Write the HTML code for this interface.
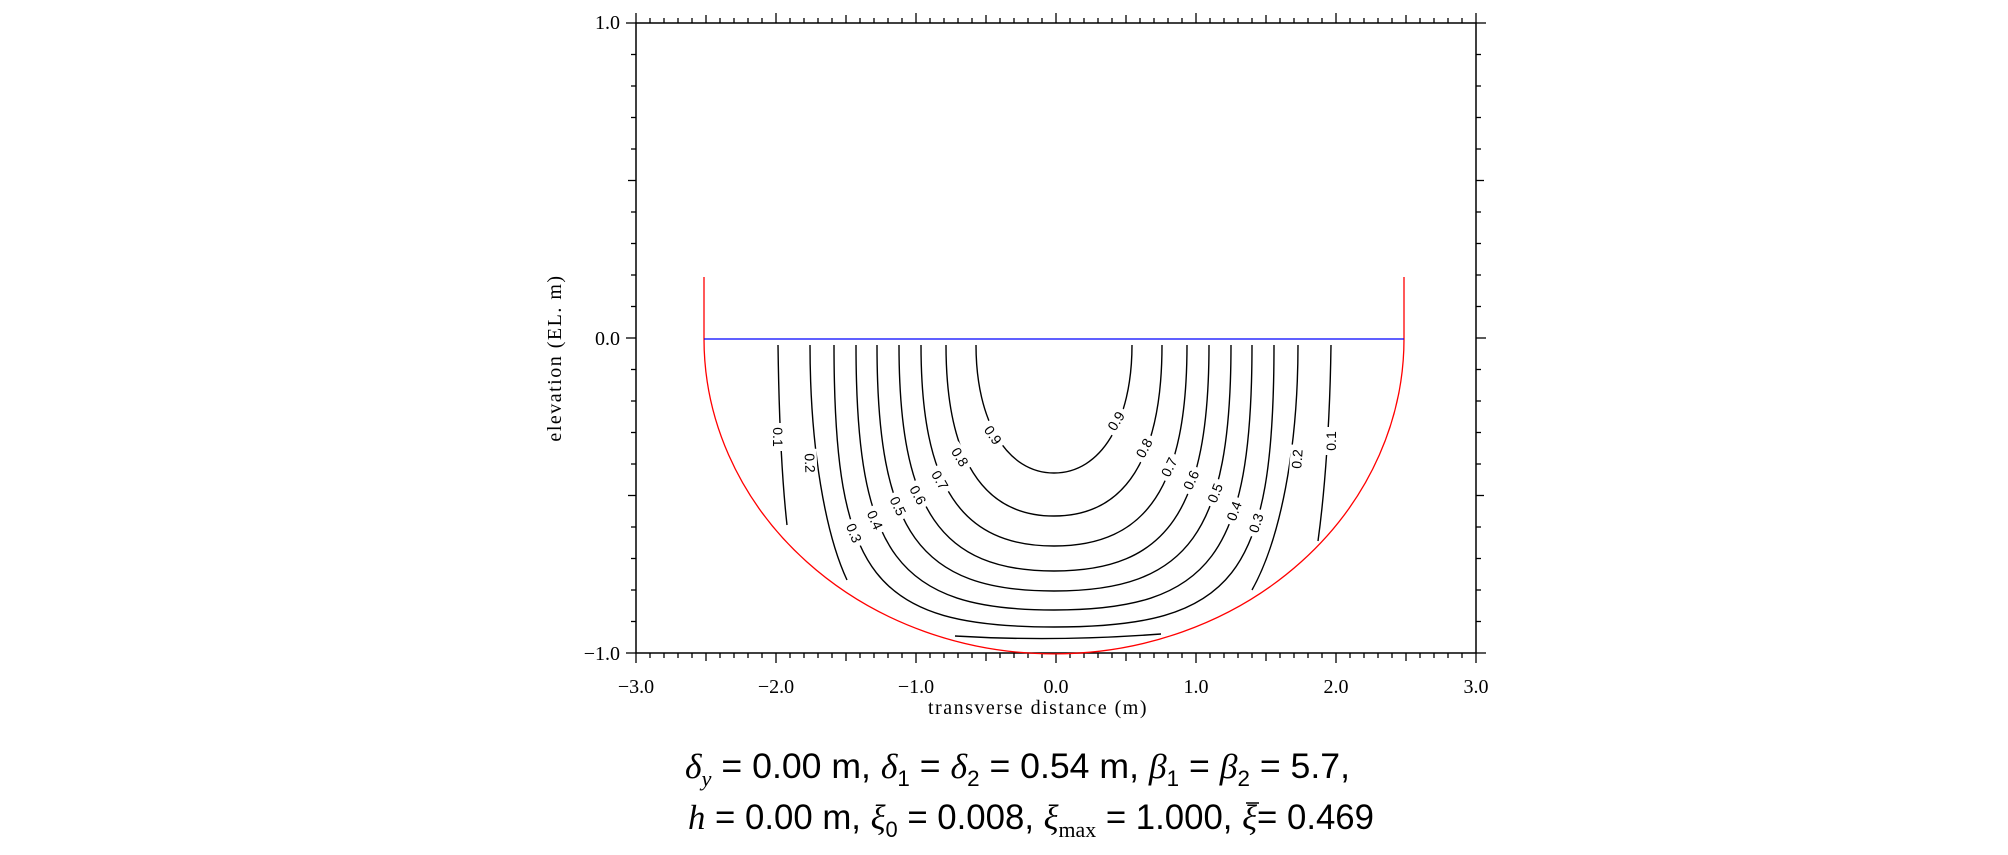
<!DOCTYPE html>
<html><head><meta charset="utf-8"><style>
html,body{margin:0;padding:0;background:#fff;width:2008px;height:855px;overflow:hidden}
</style></head><body>
<svg id="s" width="2008" height="855" viewBox="0 0 2008 855" xmlns="http://www.w3.org/2000/svg">
<rect width="2008" height="855" fill="#fff"/>
<g id="ticks" stroke="#000" stroke-width="1.3"></g>
<rect x="636" y="23" width="840" height="630" fill="none" stroke="#000" stroke-width="1.5"/>
<g font-family="Liberation Serif, serif" font-size="20" fill="#000">
<text x="620" y="29" text-anchor="end">1.0</text>
<text x="620" y="345" text-anchor="end">0.0</text>
<text x="620" y="660" text-anchor="end">−1.0</text>
<g text-anchor="middle">
<text x="636" y="693">−3.0</text><text x="776" y="693">−2.0</text><text x="916" y="693">−1.0</text>
<text x="1056" y="693">0.0</text><text x="1196" y="693">1.0</text><text x="1336" y="693">2.0</text><text x="1476" y="693">3.0</text>
</g>
<text x="1038" y="714" text-anchor="middle" font-size="20" letter-spacing="1.5">transverse  distance  (m)</text>
<text transform="translate(561,358) rotate(-90)" text-anchor="middle" font-size="20" letter-spacing="1.5">elevation  (EL.  m)</text>
</g>
<path d="M704,277 L704,339 A350,315 0 0 0 1404,339 L1404,277" fill="none" stroke="#ff0000" stroke-width="1.3"/>
<line x1="704" y1="339" x2="1404" y2="339" stroke="#0000ff" stroke-width="1.3"/>
<g fill="none" stroke="#000" stroke-width="1.4" id="cont">
<path d="M778,345 C779,420 782,480 787,525"/>
<path d="M1331,345 C1330,420 1325,490 1318,541"/>
<path d="M810,345 C810,450 826,535 847,580"/>
<path d="M1298,345 C1298,450 1280,540 1252,590"/>
<path d="M955,636 Q1055,642 1161,634"/>
</g>
<g font-family="Liberation Sans, sans-serif" font-size="14" fill="#000" id="lab"></g>
<g font-family="Liberation Sans, DejaVu Sans, sans-serif" font-size="35" fill="#000">
<text x="685" y="778" textLength="665" lengthAdjust="spacingAndGlyphs"><tspan font-style="italic" font-family="Liberation Serif, serif">δ</tspan><tspan font-size="22" dy="8" font-style="italic" font-family="Liberation Serif, serif">y</tspan><tspan dy="-8"> = 0.00 m, </tspan><tspan font-style="italic" font-family="Liberation Serif, serif">δ</tspan><tspan font-size="22" dy="8">1</tspan><tspan dy="-8"> = </tspan><tspan font-style="italic" font-family="Liberation Serif, serif">δ</tspan><tspan font-size="22" dy="8">2</tspan><tspan dy="-8"> = 0.54 m, </tspan><tspan font-style="italic" font-family="Liberation Serif, serif">β</tspan><tspan font-size="22" dy="8">1</tspan><tspan dy="-8"> = </tspan><tspan font-style="italic" font-family="Liberation Serif, serif">β</tspan><tspan font-size="22" dy="8">2</tspan><tspan dy="-8"> = 5.7,</tspan></text>
<text x="688" y="829" textLength="686" lengthAdjust="spacingAndGlyphs"><tspan font-style="italic" font-family="Liberation Serif, serif">h</tspan><tspan> = 0.00 m, </tspan><tspan font-style="italic" font-family="Liberation Serif, serif">ξ</tspan><tspan font-size="22" dy="8">0</tspan><tspan dy="-8"> = 0.008, </tspan><tspan font-style="italic" font-family="Liberation Serif, serif">ξ</tspan><tspan font-size="22" dy="8" font-family="Liberation Serif, serif">max</tspan><tspan dy="-8"> = 1.000, </tspan><tspan font-style="italic" font-family="Liberation Serif, serif">ξ</tspan><tspan>= 0.469</tspan></text>
</g>
<line x1="1246" y1="803" x2="1259" y2="803" stroke="#000" stroke-width="1.5"/>
</svg>
<script>
var NS="http://www.w3.org/2000/svg";
function el(p,t,a){var e=document.createElementNS(NS,t);for(var k in a)e.setAttribute(k,a[k]);p.appendChild(e);return e;}
var T=document.getElementById('ticks');
for(var i=0;i<=60;i++){var x=636+i*14;var L=(i%10==0)?10:(i%5==0?8:5);
 el(T,'line',{x1:x,y1:653,x2:x,y2:653+L});el(T,'line',{x1:x,y1:23,x2:x,y2:23-L});}
for(var j=0;j<=20;j++){var y=23+j*31.5;var L=(j%10==0)?10:(j%5==0?8:5);
 el(T,'line',{x1:636,y1:y,x2:636-L,y2:y});el(T,'line',{x1:1476,y1:y,x2:1476+L,y2:y});}
var C=document.getElementById('cont');
var cx=1054,ty=345;
var cs=[[0.9,78,473,0.6],[0.8,108,516,0.66],[0.7,133,546,0.7],[0.6,155,571,0.73],[0.5,177,591,0.76],[0.4,198,610,0.79],[0.3,220,627,0.82]];
cs.forEach(function(c){var a=c[1],Y=c[2],k=c[3],D=Y-ty;
 var d="M"+(cx-a)+","+ty+" C"+(cx-a)+","+(ty+k*D)+" "+(cx-k*a)+","+Y+" "+cx+","+Y+" C"+(cx+k*a)+","+Y+" "+(cx+a)+","+(ty+k*D)+" "+(cx+a)+","+ty;
 el(C,'path',{d:d});});
var G=document.getElementById('lab');
var labs=[["0.1",778,437,90],["0.2",810,463,88],["0.3",854,533,68],["0.4",875,520,66],["0.5",898,506,64],["0.6",918,495,62],["0.7",940,480,60],["0.8",960,457,58],["0.9",993,435,55],
["0.9",1116,421,-58],["0.8",1144,448,-62],["0.7",1169,467,-64],["0.6",1191,480,-66],["0.5",1215,493,-68],["0.4",1234,511,-70],["0.3",1256,523,-72],["0.2",1297,459,-86],["0.1",1331,441,-90]];
labs.forEach(function(l){var g=el(G,'g',{transform:"translate("+l[1]+","+l[2]+") rotate("+l[3]+")"});
 el(g,'rect',{x:-14,y:-7,width:28,height:14,fill:"#fff"});
 var t=el(g,'text',{x:0,y:5,'text-anchor':'middle'});t.textContent=l[0];});
</script>
</body></html>
